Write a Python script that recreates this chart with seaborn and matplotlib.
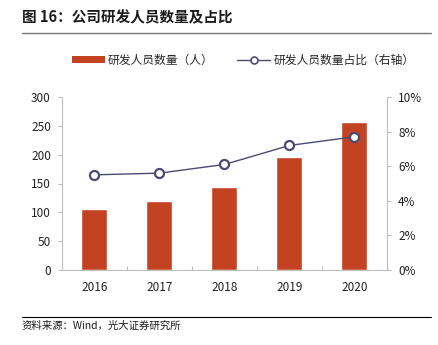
import matplotlib
matplotlib.use("Agg")
import matplotlib.pyplot as plt
import matplotlib.ticker as mticker
from matplotlib.lines import Line2D
from matplotlib.patches import Patch
import numpy as np
import pandas as pd
import seaborn as sns

years = ["2016", "2017", "2018", "2019", "2020"]
staff = [106, 120, 144, 196, 257]
ratio = [5.5, 5.6, 6.1, 7.2, 7.7]

title = "图 16：公司研发人员数量及占比"
bar_label = "研发人员数量（人）"
line_label = "研发人员数量占比（右轴）"
source = "资料来源：Wind，光大证券研究所"

sns.set_style("white")
plt.rcParams["font.family"] = ["Noto Sans CJK SC", "DejaVu Sans"]

bar_color = "#C34222"
line_color = "#4B4B72"
axis_gray = "#BFBFBF"

df = pd.DataFrame({"year": years, "staff": staff, "ratio": ratio})

fig = plt.figure(figsize=(4.39, 3.45), dpi=100)
ax = fig.add_axes([62 / 439, 75 / 345, 325 / 439, 173 / 345])

sns.barplot(data=df, x="year", y="staff", color=bar_color, width=0.4,
            saturation=1, ax=ax, zorder=2)
ax.set_ylim(0, 300)
ax.set_xlim(-0.5, 4.5)
ax.set_yticks(range(0, 301, 50))
ax.set_xlabel("")
ax.set_ylabel("")

ax2 = ax.twinx()
df["pos"] = np.arange(len(years))
sns.lineplot(data=df, x="pos", y="ratio", color=line_color, linewidth=1.0,
             marker="o", markersize=6.5, markerfacecolor="white",
             markeredgecolor=line_color, markeredgewidth=1.6, ax=ax2, zorder=3)
ax2.set_ylim(0, 10)
ax2.set_yticks(range(0, 11, 2))
ax2.yaxis.set_major_formatter(mticker.FuncFormatter(lambda v, p: f"{v:.0f}%"))
ax2.set_xlim(-0.5, 4.5)
ax2.set_xlabel("")
ax2.set_ylabel("")

for a in (ax, ax2):
    a.spines["top"].set_visible(False)
    for s in ("left", "right", "bottom"):
        a.spines[s].set_color(axis_gray)
        a.spines[s].set_linewidth(0.8)
ax.spines["right"].set_visible(False)
ax2.spines["left"].set_visible(False)
ax2.spines["bottom"].set_visible(False)

ax.tick_params(axis="y", which="major", length=3, width=0.8, color=axis_gray,
               labelsize=8.5, pad=5, left=True, direction="out")
ax2.tick_params(axis="y", which="major", length=3, width=0.8, color=axis_gray,
                labelsize=8.5, pad=5, right=True, direction="out")
ax.tick_params(axis="x", which="major", length=0, labelsize=8.5, pad=8)
ax.set_xticks(np.arange(-0.5, 4.6, 1), minor=True)
ax.tick_params(axis="x", which="minor", length=3, width=0.8, color=axis_gray,
               direction="in", bottom=True)
for lbl in ax.get_xticklabels() + ax.get_yticklabels() + ax2.get_yticklabels():
    lbl.set_color("#222222")

# header and footer
fig.text(22 / 439, 1 - 17 / 345, title, fontsize=10.5, fontweight="bold",
         va="center", ha="left", color="#1a1a1a")
fig.add_artist(Line2D([22 / 439, 431 / 439], [1 - 33 / 345] * 2,
                      color="#777777", linewidth=1.0))
fig.add_artist(Line2D([22 / 439, 431 / 439], [1 - 317 / 345] * 2,
                      color="#000000", linewidth=0.8))
fig.text(22 / 439, 1 - 326 / 345, source, fontsize=7.5, va="center",
         ha="left", color="#1a1a1a")

handles = [
    Patch(facecolor=bar_color, edgecolor="none"),
    Line2D([], [], color=line_color, linewidth=1.0, marker="o", markersize=5,
           markerfacecolor="white", markeredgecolor=line_color, markeredgewidth=1.2),
]
fig.legend(handles, [bar_label, line_label], loc="center",
           bbox_to_anchor=(243 / 439, 1 - 60 / 345), ncol=2, frameon=False,
           fontsize=8.5, handlelength=2.8, handleheight=0.5,
           columnspacing=2.0, handletextpad=0.25)

fig.savefig("out.png", dpi=100)
